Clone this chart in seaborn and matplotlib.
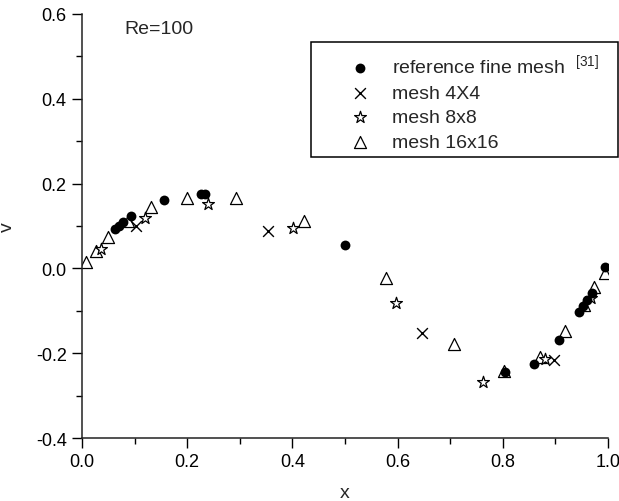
import matplotlib
matplotlib.use("Agg")
import matplotlib.pyplot as plt
from matplotlib.patches import Rectangle
from matplotlib.ticker import MultipleLocator
import seaborn as sns

# ---- data ----
ref_x = [0.995, 0.9688, 0.9609, 0.9531, 0.9453, 0.9063, 0.8594, 0.8047, 0.5000,
         0.2344, 0.2266, 0.1563, 0.0938, 0.0781, 0.0703, 0.0625]
ref_v = [0.003, -0.05906, -0.07391, -0.08864, -0.10313, -0.16914, -0.22445, -0.24533,
         0.05454, 0.17527, 0.17507, 0.16077, 0.12317, 0.10890, 0.10091, 0.09233]

m4_x = [0.103, 0.354, 0.646, 0.898]
m4_v = [0.100, 0.089, -0.153, -0.215]

m8_x = [0.036, 0.120, 0.239, 0.402, 0.597, 0.762, 0.880, 0.967]
m8_v = [0.046, 0.119, 0.151, 0.096, -0.081, -0.268, -0.213, -0.070]

m16_x = [0.008, 0.027, 0.050, 0.087, 0.132, 0.199, 0.293, 0.423,
         0.578, 0.708, 0.803, 0.871, 0.918, 0.954, 0.974, 0.994]
m16_v = [0.016, 0.041, 0.075, 0.111, 0.144, 0.167, 0.166, 0.112,
         -0.023, -0.179, -0.242, -0.210, -0.147, -0.087, -0.043, -0.011]

labels = [r"reference fine mesh  $^{\mathregular{[31]}}$", "mesh 4X4", "mesh 8x8", "mesh 16x16"]

sns.set_style("ticks")
plt.rcParams["font.family"] = ["Liberation Sans", "DejaVu Sans"]
plt.rcParams["mathtext.fontset"] = "custom"
plt.rcParams["mathtext.rm"] = "Liberation Sans"

W, H = 619, 502
fig = plt.figure(figsize=(W / 100, H / 100), dpi=100)
ax = fig.add_axes([82 / W, 1 - 439 / H, (608 - 82) / W, (439 - 15) / H])

sns.scatterplot(x=ref_x, y=ref_v, marker="o", color="black", s=50, linewidth=0,
                label=labels[0], ax=ax, zorder=4)
sns.scatterplot(x=m4_x, y=m4_v, marker="x", color="black", s=60, linewidth=1.0,
                label=labels[1], ax=ax, zorder=3)
sns.scatterplot(x=m8_x, y=m8_v, marker="*", color="white", edgecolor="black", s=80,
                linewidth=0.9, label=labels[2], ax=ax, zorder=3)
sns.scatterplot(x=m16_x, y=m16_v, marker="^", color="white", edgecolor="black", s=75,
                linewidth=0.9, label=labels[3], ax=ax, zorder=2)

ax.set_xlim(0, 1.0)
ax.set_ylim(-0.4, 0.6)
ax.xaxis.set_major_locator(MultipleLocator(0.2))
ax.xaxis.set_minor_locator(MultipleLocator(0.1))
ax.yaxis.set_major_locator(MultipleLocator(0.2))
ax.yaxis.set_minor_locator(MultipleLocator(0.1))
ax.xaxis.set_major_formatter(plt.FuncFormatter(lambda v, p: f"{v:.1f}"))
ax.yaxis.set_major_formatter(plt.FuncFormatter(lambda v, p: f"{v:.1f}"))
ax.tick_params(which="major", direction="out", length=7, width=1, labelsize=13,
               colors="black", pad=4)
ax.tick_params(which="minor", direction="out", length=4, width=1, colors="black")
for s in ["top", "right"]:
    ax.spines[s].set_visible(False)
for s in ["left", "bottom"]:
    ax.spines[s].set_linewidth(1.1)
    ax.spines[s].set_color("#222222")

ax.set_xlabel("x", fontsize=14, labelpad=10)
ax.set_ylabel("v", fontsize=14, labelpad=14)

ax.text(0.08, 0.566, "Re=100", fontsize=14, va="center", ha="left")

leg = ax.legend(loc="upper left", bbox_to_anchor=(350 / W, 1 - 54 / H),
                bbox_transform=fig.transFigure, frameon=False, fontsize=14,
                borderpad=0, borderaxespad=0, handlelength=1.0, handletextpad=1.15,
                labelspacing=0.35)

fig.patches.append(Rectangle((311 / W, 1 - 158 / H), (618 - 311) / W, (158 - 43) / H,
                             transform=fig.transFigure, fill=False,
                             edgecolor="black", linewidth=1.1))

fig.savefig("out.png", dpi=100)
